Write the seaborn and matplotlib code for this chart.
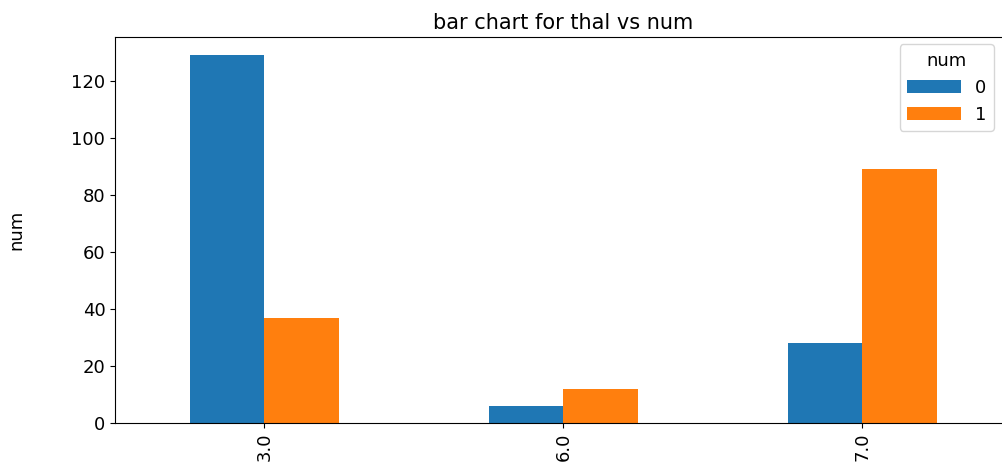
import pandas as pd
import seaborn as sns
import matplotlib.pyplot as plt

thal = ['3.0', '6.0', '7.0']
num0 = [129, 6, 28]
num1 = [37, 12, 89]

df = pd.DataFrame({
    'thal': thal * 2,
    'count': num0 + num1,
    'num': ['0'] * 3 + ['1'] * 3,
})

fig = plt.figure(figsize=(10.03, 4.71), dpi=100)
ax = fig.add_axes([0.1147, 0.1019, 0.894, 0.8195])
sns.barplot(data=df, x='thal', y='count', hue='num', order=thal,
            palette=['#1f77b4', '#ff7f0e'], saturation=1, width=0.5,
            gap=0, linewidth=0, ax=ax)
ax.set_xlim(-0.5, 2.5)
ax.set_ylim(0, 135.45)
ax.set_title('bar chart for thal vs num', fontsize=15)
ax.set_xlabel('')
ax.set_ylabel('num', fontsize=13)
ax.yaxis.set_label_coords(-0.1, 0.5)
ax.tick_params(axis='both', labelsize=13)
plt.setp(ax.get_xticklabels(), rotation=90)
ax.legend(title='num', loc='upper right', fontsize=13, title_fontsize=13,
          handlelength=3.0, bbox_to_anchor=(1.0, 0.925),
          bbox_transform=fig.transFigure)
fig.savefig('out.png', dpi=100)
